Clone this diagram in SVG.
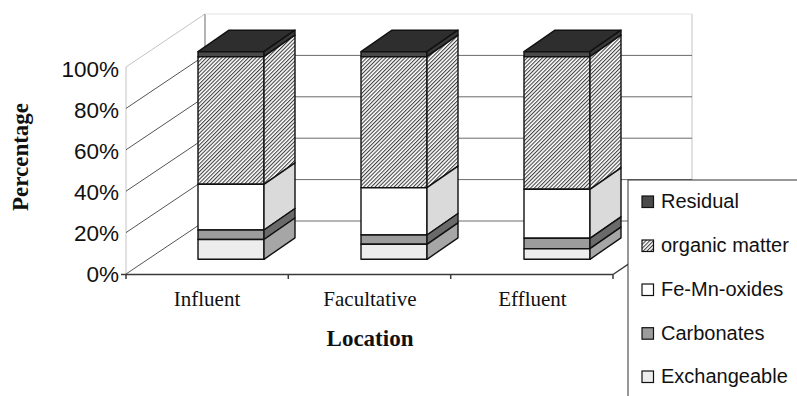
<svg xmlns="http://www.w3.org/2000/svg" width="797" height="396" viewBox="0 0 797 396">
  <style>
    .bg { fill: #ffffff; }
    .wallgrid { stroke: #555; stroke-width: 1; fill: none; }
    .wallfaint { stroke: #c4c4c4; stroke-width: 1; fill: none; }
    .backgrid { stroke: #6a6a6a; stroke-width: 1; fill: none; }
    .floor { stroke: #3a3a3a; stroke-width: 1.5; fill: none; }
    .seg { stroke: #111; stroke-width: 1.4; stroke-linejoin: round; }
    .res-front { fill: #4a4a4a; }
    .res-top { fill: #2e2e2e; }
    .res-side { fill: #383838; }
    .org { fill: url(#hatch); }
    .fe-front { fill: #ffffff; }
    .fe-side { fill: #dadada; }
    .carb-front { fill: #9c9c9c; }
    .carb-side { fill: #6a6a6a; }
    .exch-front { fill: #ededed; }
    .exch-side { fill: #a6a6a6; }
    .axis-num { font-family: "Liberation Sans", Arial, sans-serif; font-size: 22.5px; fill: #111; text-anchor: end; }
    .cat { font-family: "Liberation Serif", "Times New Roman", serif; font-size: 21px; fill: #111; text-anchor: middle; }
    .title { font-family: "Liberation Serif", "Times New Roman", serif; font-size: 23px; font-weight: bold; fill: #111; text-anchor: middle; }
    .leg { font-family: "Liberation Sans", Arial, sans-serif; font-size: 20px; fill: #111; }
    .sw { stroke: #111; stroke-width: 1.2; }
  </style>
  <defs>
    <!-- fine "////" hatching for the organic-matter fraction -->
    <pattern id="hatch" patternUnits="userSpaceOnUse" width="2.7" height="2.7" patternTransform="rotate(45)">
      <rect width="2.7" height="2.7" fill="#ffffff"/>
      <line x1="0.6" y1="0" x2="0.6" y2="2.7" stroke="#1a1a1a" stroke-width="0.9"/>
    </pattern>
  </defs>

  <rect class="bg" width="797" height="396"/>

  <!-- chart walls, floor and gridlines -->
  <g id="walls">
    <!-- left wall -->
    <line class="wallfaint" x1="126" y1="67" x2="126" y2="274"/>
    <line class="wallfaint" x1="126" y1="67" x2="205" y2="14"/>
    <line class="wallgrid" x1="126" y1="108.4" x2="205" y2="55.4"/>
    <line class="wallgrid" x1="126" y1="149.8" x2="205" y2="96.8"/>
    <line class="wallgrid" x1="126" y1="191.2" x2="205" y2="138.2"/>
    <line class="wallgrid" x1="126" y1="232.6" x2="205" y2="179.6"/>
    <line class="wallgrid" x1="126" y1="274" x2="205" y2="221"/>
    <!-- back wall -->
    <line class="backgrid" x1="205" y1="14" x2="205" y2="221"/>
    <line class="wallfaint" x1="692" y1="14" x2="692" y2="221"/>
    <line x1="205" y1="14" x2="692" y2="14" stroke="#e2e2e2" stroke-width="1"/>
    <line class="backgrid" x1="205" y1="55.4" x2="692" y2="55.4"/>
    <line class="backgrid" x1="205" y1="96.8" x2="692" y2="96.8"/>
    <line class="backgrid" x1="205" y1="138.2" x2="692" y2="138.2"/>
    <line class="backgrid" x1="205" y1="179.6" x2="692" y2="179.6"/>
    <line class="backgrid" x1="205" y1="221" x2="692" y2="221"/>
    <!-- floor edges and ticks -->
    <line class="floor" x1="126" y1="274.5" x2="613" y2="274.5"/>
    <line class="floor" x1="613" y1="274.5" x2="692" y2="221"/>
    <line class="floor" x1="121" y1="274.5" x2="126" y2="274.5"/>
    <line class="floor" x1="126" y1="274.5" x2="126" y2="279"/>
    <line class="floor" x1="288.3" y1="274.5" x2="288.3" y2="279"/>
    <line class="floor" x1="450.7" y1="274.5" x2="450.7" y2="279"/>
    <line class="floor" x1="613" y1="274.5" x2="613" y2="279"/>
  </g>

  <!-- stacked 3-D bars -->
  <g id="bar-influent">
    <polygon class="seg res-top" points="198,51.7 264,51.7 295,30.2 229,30.2"/>
    <rect class="seg res-front" x="198" y="51.7" width="66" height="5"/>
    <rect class="seg org" x="198" y="56.7" width="66" height="127.6"/>
    <rect class="seg fe-front" x="198" y="184.3" width="66" height="45.7"/>
    <rect class="seg carb-front" x="198" y="230" width="66" height="9.5"/>
    <rect class="seg exch-front" x="198" y="239.5" width="66" height="19.8"/>
    <polygon class="seg res-side" points="264,51.7 295,30.2 295,35.2 264,56.7"/>
    <polygon class="seg org" points="264,56.7 295,35.2 295,162.8 264,184.3"/>
    <polygon class="seg fe-side" points="264,184.3 295,162.8 295,208.5 264,230"/>
    <polygon class="seg carb-side" points="264,230 295,208.5 295,218 264,239.5"/>
    <polygon class="seg exch-side" points="264,239.5 295,218 295,237.8 264,259.3"/>
  </g>

  <g id="bar-facultative">
    <polygon class="seg res-top" points="361,51.7 427,51.7 458,30.2 392,30.2"/>
    <rect class="seg res-front" x="361" y="51.7" width="66" height="5"/>
    <rect class="seg org" x="361" y="56.7" width="66" height="131"/>
    <rect class="seg fe-front" x="361" y="187.7" width="66" height="47.3"/>
    <rect class="seg carb-front" x="361" y="235" width="66" height="9.3"/>
    <rect class="seg exch-front" x="361" y="244.3" width="66" height="15"/>
    <polygon class="seg res-side" points="427,51.7 458,30.2 458,35.2 427,56.7"/>
    <polygon class="seg org" points="427,56.7 458,35.2 458,166.2 427,187.7"/>
    <polygon class="seg fe-side" points="427,187.7 458,166.2 458,213.5 427,235"/>
    <polygon class="seg carb-side" points="427,235 458,213.5 458,222.8 427,244.3"/>
    <polygon class="seg exch-side" points="427,244.3 458,222.8 458,237.8 427,259.3"/>
  </g>

  <g id="bar-effluent">
    <polygon class="seg res-top" points="524,51.7 590,51.7 621,30.2 555,30.2"/>
    <rect class="seg res-front" x="524" y="51.7" width="66" height="5"/>
    <rect class="seg org" x="524" y="56.7" width="66" height="132.6"/>
    <rect class="seg fe-front" x="524" y="189.3" width="66" height="49"/>
    <rect class="seg carb-front" x="524" y="238.3" width="66" height="10.4"/>
    <rect class="seg exch-front" x="524" y="248.7" width="66" height="10.6"/>
    <polygon class="seg res-side" points="590,51.7 621,30.2 621,35.2 590,56.7"/>
    <polygon class="seg org" points="590,56.7 621,35.2 621,167.8 590,189.3"/>
    <polygon class="seg fe-side" points="590,189.3 621,167.8 621,216.8 590,238.3"/>
    <polygon class="seg carb-side" points="590,238.3 621,216.8 621,227.2 590,248.7"/>
    <polygon class="seg exch-side" points="590,248.7 621,227.2 621,237.8 590,259.3"/>
  </g>

  <!-- value axis labels -->
  <g id="y-axis">
    <text class="axis-num" x="119" y="77">100%</text>
    <text class="axis-num" x="119" y="118">80%</text>
    <text class="axis-num" x="119" y="159">60%</text>
    <text class="axis-num" x="119" y="200">40%</text>
    <text class="axis-num" x="119" y="241">20%</text>
    <text class="axis-num" x="119" y="282">0%</text>
    <text class="title" x="0" y="0" font-size="24" transform="translate(28,157) rotate(-90)">Percentage</text>
  </g>

  <!-- category axis labels -->
  <g id="x-axis">
    <text class="cat" x="207" y="306">Influent</text>
    <text class="cat" x="370" y="306">Facultative</text>
    <text class="cat" x="532.5" y="306">Effluent</text>
    <text class="title" x="370" y="346">Location</text>
  </g>

  <!-- legend -->
  <g id="legend">
    <rect x="628" y="180" width="200" height="240" fill="#ffffff" stroke="#333" stroke-width="1"/>
    <rect class="sw res-front" x="642" y="196" width="11.5" height="11.5"/>
    <text class="leg" x="661" y="208">Residual</text>
    <rect class="sw org" x="642" y="240" width="11.5" height="11.5"/>
    <text class="leg" x="661" y="252">organic matter</text>
    <rect class="sw fe-front" x="642" y="284" width="11.5" height="11.5"/>
    <text class="leg" x="661" y="296">Fe-Mn-oxides</text>
    <rect class="sw carb-front" x="642" y="327.7" width="11.5" height="11.5"/>
    <text class="leg" x="661" y="339.5">Carbonates</text>
    <rect class="sw exch-front" x="642" y="371" width="11.5" height="11.5"/>
    <text class="leg" x="661" y="383">Exchangeable</text>
  </g>
</svg>
